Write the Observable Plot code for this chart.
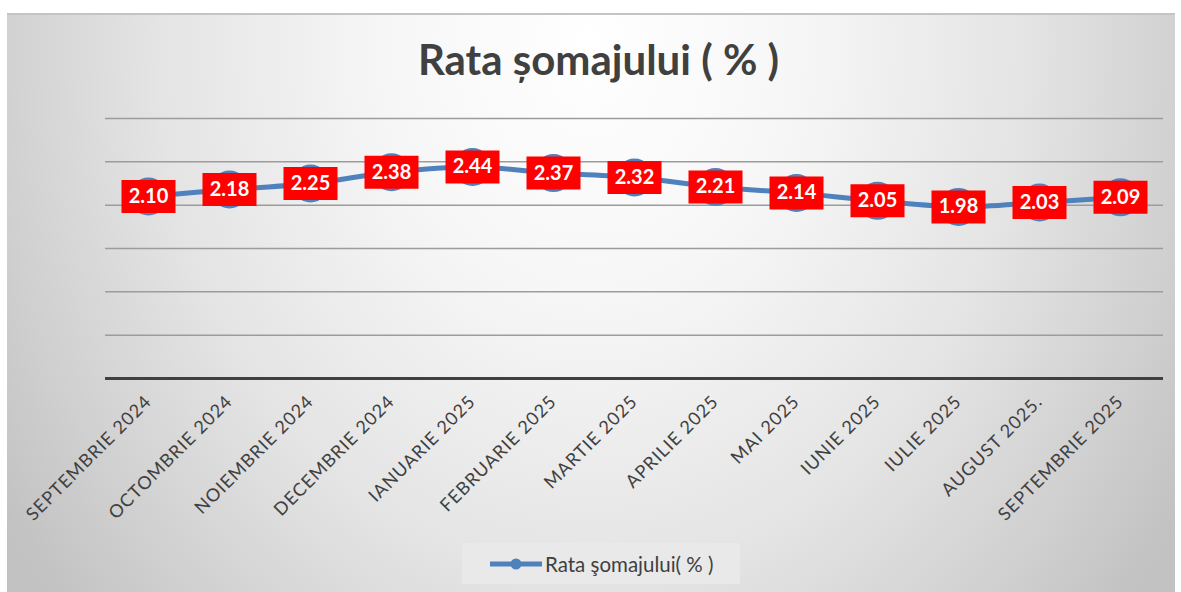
<!DOCTYPE html>
<html>
<head>
<meta charset="utf-8">
<script src="https://cdn.jsdelivr.net/npm/d3@7"></script>
<script src="https://cdn.jsdelivr.net/npm/@observablehq/plot@0.6"></script>
<style>
  html, body { margin: 0; padding: 0; background: #ffffff; }
  #wrap { position: relative; width: 1181px; height: 592px; overflow: hidden; font-family: Lato, "Open Sans", sans-serif; }
  #frame { position: absolute; left: 7px; top: 13px; width: 1168px; height: 577px;
    border-top: 2px solid #c4c4c4;
    background: radial-gradient(ellipse 60% 150% at 50% 5%, #ffffff 0%, #f6f6f6 30%, #e4e4e4 62%, #d0d0d0 85%, #c2c2c2 100%); }
  #title { position: absolute; left: 8px; top: 34px; width: 1181px; text-align: center; font-size: 42px; font-weight: bold; color: #404040; }
  #chart { position: absolute; left: 0; top: 0; }
  #chart g[aria-label="x-axis tick label"] text { letter-spacing: 1px; }
  #legend { position: absolute; left: 462px; top: 543px; width: 278px; height: 41px; background: #e9e9e9;
    display: flex; align-items: center; font-size: 20.5px; color: #404040; }
  #legend svg { margin-left: 26px; margin-right: 1px; }
</style>
</head>
<body>
<div id="wrap">
  <div id="frame"></div>
  <div id="title">Rata șomajului ( % )</div>
  <div id="chart"></div>
  <div id="legend"><svg width="56" height="12"><line x1="2" y1="6" x2="54" y2="6" stroke="#4f81bd" stroke-width="5"/><circle cx="28" cy="6" r="5.5" fill="#4f81bd"/></svg><span>Rata şomajului( % )</span></div>
</div>
<script>
const months = ["SEPTEMBRIE 2024", "OCTOMBRIE 2024", "NOIEMBRIE 2024", "DECEMBRIE 2024", "IANUARIE 2025", "FEBRUARIE 2025", "MARTIE 2025", "APRILIE 2025", "MAI 2025", "IUNIE 2025", "IULIE 2025", "AUGUST 2025.", "SEPTEMBRIE 2025"];
const rates = [2.10, 2.18, 2.25, 2.38, 2.44, 2.37, 2.32, 2.21, 2.14, 2.05, 1.98, 2.03, 2.09];
const gridValues = [0.5, 1, 1.5, 2, 2.5, 3];
const yDomain = [0, 3];

const data = months.map((m, i) => ({month: m, rate: rates[i]}));

const labelBox = { draw(context) { context.rect(-27, -16.5, 54, 33); } };

const chart = Plot.plot({
  width: 1181,
  height: 540,
  marginLeft: 105,
  marginRight: 18,
  marginTop: 118,
  marginBottom: 162,
  style: { background: "transparent", fontFamily: "Lato, 'Open Sans', sans-serif", color: "#404040", overflow: "visible" },
  x: { type: "point", domain: months, padding: 0.5, label: null },
  y: { domain: yDomain, axis: null },
  marks: [
    Plot.ruleY(gridValues, { stroke: "#9c9c9c", strokeWidth: 1.5 }),
    Plot.ruleY([0], { stroke: "#404040", strokeWidth: 3 }),
    Plot.axisX({ tickRotate: -45, tickSize: 0, tickPadding: 20, fontSize: 18, fill: "#404040", label: null }),
    Plot.line(data, { x: "month", y: "rate", stroke: "#4f81bd", strokeWidth: 5, curve: "catmull-rom" }),
    Plot.dot(data, { x: "month", y: "rate", r: 19, fill: "#4f81bd", stroke: "none" }),
    Plot.dot(data, { x: "month", y: "rate", symbol: labelBox, fill: "#ff0000", stroke: "none" }),
    Plot.text(data, { x: "month", y: "rate", text: d => d.rate.toFixed(2), fill: "#ffffff", fontWeight: "bold", fontSize: 20 })
  ]
});
document.getElementById("chart").appendChild(chart);
</script>
</body>
</html>
